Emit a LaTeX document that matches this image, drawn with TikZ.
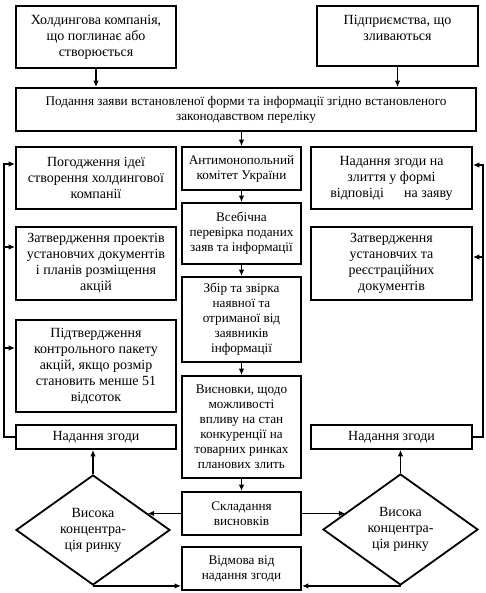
\documentclass[tikz,border=0pt]{standalone}
\usepackage{fontspec}
\setmainfont{Liberation Serif}
\usetikzlibrary{arrows.meta,shapes.geometric}
\newcommand\fsside{\fontsize{14}{16}\selectfont}
\newcommand\fsmid{\fontsize{13.2}{15}\selectfont}
\begin{document}
\begin{tikzpicture}[x=1pt,y=-1pt,
  box/.style={draw, line width=1.8pt, align=center, inner sep=0pt, font=\fsside},
  midbox/.style={box, font=\fsmid, minimum width=119pt},
  sidebox/.style={box, minimum width=160pt},
  decision/.style={draw, diamond, line width=1.8pt, align=center, inner sep=0pt, font=\fsside, aspect=1.4},
  arr/.style={line width=1.5pt, -{Latex[length=6.5pt,width=5.5pt]}},
  conn/.style={line width=1.5pt}]
\useasboundingbox (0,0) rectangle (486,593);

% top boxes
\node[box, minimum width=160pt, minimum height=62pt] (H1) at (96,37)
  {Холдингова компанія,\\що поглинає або\\створюється};
\node[box, minimum width=161pt, minimum height=60pt] (H2) at (397.5,36)
  {Підприємства, що\\зливаються\\~};
\node[box, font=\fsmid, minimum width=460pt, minimum height=43pt] (W) at (246,109.5)
  {Подання заяви встановленої форми та інформації згідно встановленого\\законодавством переліку};

% left column
\node[sidebox, minimum height=62pt] (L1) at (96,178)
  {Погодження ідеї\\створення холдингової\\компанії};
\node[sidebox, minimum height=73pt] (L2) at (96,263.5)
  {Затвердження проектів\\установчих документів\\і планів розміщення\\акцій};
\node[sidebox, minimum height=92pt] (L3) at (96,366)
  {Підтвердження\\контрольного пакету\\акцій, якщо розмір\\становить менше 51\\відсоток};
\node[sidebox, minimum height=24pt] (L4) at (96,437) {Надання згоди};

% centre column
\node[midbox, minimum height=43pt] (C1) at (241.5,168.5)
  {Антимонопольний\\комітет України};
\node[midbox, minimum height=61pt] (C2) at (241.5,233.5)
  {Всебічна\\перевірка поданих\\заяв та інформації};
\node[midbox, minimum height=85pt] (C3) at (241.5,319.5)
  {Збір та звірка\\наявної та\\отриманої від\\заявників\\інформації};
\node[midbox, minimum height=102pt] (C4) at (241.5,427)
  {Висновки, щодо\\можливості\\впливу на стан\\конкуренції на\\товарних ринках\\планових злить};
\node[midbox, minimum height=43pt] (C5) at (241.5,513.5)
  {Складання\\висновків};
\node[midbox, minimum height=43pt] (C6) at (241.5,568.5)
  {Відмова від\\надання згоди};

% right column
\node[box, minimum width=161pt, minimum height=62pt] (R1) at (391.5,178)
  {Надання згоди на\\злиття у формі\\відповіді\hspace{1.2em} на заяву};
\node[box, minimum width=161pt, minimum height=73pt] (R2) at (391.5,263.5)
  {Затвердження\\установчих та\\реєстраційних\\документів};
\node[box, minimum width=161pt, minimum height=24pt] (R3) at (391.5,437) {Надання згоди};

% decisions
\node[decision, minimum width=154pt, minimum height=110pt] (D1) at (93,530)
  {Висока\\концентра-\\ція ринку};
\node[decision, minimum width=155pt, minimum height=111pt] (D2) at (400.5,529.5)
  {Висока\\концентра-\\ція ринку};

% top connectors
\draw[arr] (H1.south) -- (H1.south |- W.north);
\draw[arr] (H2.south) -- (H2.south |- W.north);
\draw[arr] (C1.north |- W.south) -- (C1.north);

% centre chain
\draw[arr] (C1.south) -- (C2.north);
\draw[arr] (C2.south) -- (C3.north);
\draw[arr] (C3.south) -- (C4.north);
\draw[arr] (C4.south) -- (C5.north);

% conclusions to decisions
\draw[arr] (C5.west) -- (C5.west -| D1.17);
\draw[arr] (C5.east) -- (C5.east -| D2.163);
\draw[arr] (D1.north) -- (D1.north |- L4.south);
\draw[arr] (D2.north) -- (D2.north |- R3.south);
\draw[arr] (D1.south) -- (D1.south -| C6.west);
\draw[arr] (D2.south) -- (D2.south -| C6.east);

% left feedback
\coordinate (la1) at (4,164);
\coordinate (la2) at (4,247);
\coordinate (la3) at (4,348);
\draw[arr, line join=miter] (L4.west) -| (la1) -- (la1 -| L1.west);
\draw[arr] (la2) -- (la2 -| L2.west);
\draw[arr] (la3) -- (la3 -| L3.west);

% right feedback
\coordinate (ra1) at (483,165);
\coordinate (ra2) at (483,257);
\draw[arr, line join=miter] (R3.east) -| (ra1) -- (ra1 -| R1.east);
\draw[arr] (ra2) -- (ra2 -| R2.east);
\end{tikzpicture}
\end{document}
